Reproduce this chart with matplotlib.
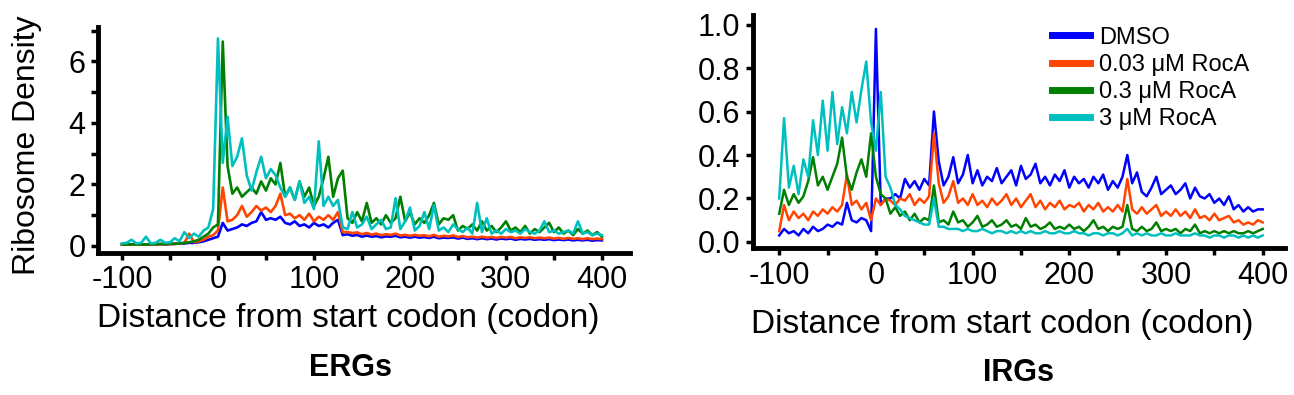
import matplotlib
matplotlib.use("Agg")
import matplotlib.pyplot as plt
import numpy as np
from matplotlib.ticker import MultipleLocator

plt.rcParams["font.family"] = ["Liberation Sans", "DejaVu Sans"]
plt.rcParams["axes.unicode_minus"] = False

# codon positions relative to the start codon (shared by every trace)
codons = np.arange(-100, 401, 5)

labels = ["DMSO", "0.03 μM RocA", "0.3 μM RocA", "3 μM RocA"]
colors = ["#0000ff", "#ff4500", "#008000", "#00bfbf"]

# ERGs
erg_dmso = [0.05, 0.05, 0.04, 0.05, 0.05, 0.04, 0.05, 0.05, 0.06, 0.05,
            0.06, 0.07, 0.08, 0.08, 0.1, 0.1, 0.12, 0.15, 0.2,
            0.25, 0.3, 0.75, 0.5, 0.55, 0.6, 0.7, 0.65, 0.75, 0.8,
            1.1, 0.85, 0.9, 0.85, 0.95, 0.75, 0.7, 0.8, 0.65, 0.7,
            0.6, 0.75, 0.65, 0.7, 0.6, 0.75, 0.85,
            0.35, 0.38, 0.33, 0.36, 0.3, 0.34, 0.3, 0.32, 0.28, 0.31,
            0.3, 0.33, 0.28, 0.3, 0.27, 0.3, 0.27, 0.29, 0.26, 0.3,
            0.25, 0.27, 0.26, 0.28, 0.24, 0.27, 0.23, 0.25, 0.22, 0.25,
            0.22, 0.24, 0.21, 0.24, 0.22, 0.24, 0.2, 0.23, 0.21, 0.23,
            0.2, 0.22, 0.2, 0.22, 0.19, 0.21, 0.19, 0.21, 0.18, 0.2,
            0.18, 0.2, 0.17, 0.19, 0.18]
erg_003 = [0.04, 0.04, 0.05, 0.04, 0.05, 0.05, 0.04, 0.05, 0.06, 0.05,
           0.07, 0.06, 0.08, 0.1, 0.4, 0.12, 0.15, 0.2, 0.3,
           0.35, 0.5, 1.9, 0.8, 0.85, 1.0, 1.3, 0.95, 1.1, 1.3,
           1.15, 1.25, 1.1, 1.3, 1.7, 1.0, 1.05, 0.9, 1.0, 0.85,
           1.05, 0.8, 0.95, 0.85, 1.0, 0.85, 1.1,
           0.45, 0.45, 0.42, 0.44, 0.38, 0.42, 0.37, 0.4, 0.35, 0.38,
           0.36, 0.4, 0.34, 0.36, 0.33, 0.36, 0.33, 0.35, 0.31, 0.36,
           0.3, 0.33, 0.31, 0.34, 0.29, 0.32, 0.28, 0.3, 0.27, 0.3,
           0.27, 0.29, 0.26, 0.29, 0.27, 0.29, 0.25, 0.28, 0.26, 0.28,
           0.25, 0.27, 0.25, 0.27, 0.24, 0.26, 0.23, 0.26, 0.23, 0.25,
           0.22, 0.25, 0.22, 0.24, 0.22]
erg_03 = [0.05, 0.05, 0.05, 0.05, 0.05, 0.05, 0.05, 0.06, 0.06, 0.06,
          0.07, 0.07, 0.08, 0.1, 0.12, 0.15, 0.2, 0.3, 0.4,
          0.6, 0.7, 6.65, 2.6, 1.7, 1.9, 1.6, 1.75, 1.9, 1.7,
          2.1, 1.8, 2.2, 2.0, 2.7, 1.6, 1.9, 1.5, 2.1, 1.6,
          1.9, 1.3, 1.6, 2.2, 2.9, 1.6, 2.2, 2.45, 0.9,
          0.75, 1.1, 0.8, 1.4, 0.75, 0.9, 0.7, 1.0, 0.75, 0.9,
          1.6, 0.8, 1.1, 0.7, 0.9, 0.75, 1.0, 1.4, 0.7, 0.9,
          0.85, 1.0,
          0.5, 0.65, 0.55, 0.7, 0.5, 0.8, 0.5, 0.65,
          0.45, 0.6, 0.8, 0.5, 0.6, 0.45, 0.65, 0.4, 0.55, 0.45,
          0.6, 0.75, 0.45, 0.6, 0.4, 0.5, 0.35, 0.55, 0.4, 0.5,
          0.35, 0.45, 0.3]
erg_3 = [0.08, 0.1, 0.2, 0.08, 0.1, 0.3, 0.08, 0.1, 0.2, 0.1,
         0.12, 0.25, 0.15, 0.45, 0.25, 0.4, 0.3, 0.5, 0.6,
         1.2, 6.75, 2.7, 4.2, 2.6, 2.9, 3.5, 2.3, 1.8, 2.4,
         2.9, 2.2, 2.5, 2.3, 1.9, 1.6, 1.9, 1.5, 2.1, 1.4,
         1.6, 1.2, 3.4, 1.3, 1.6, 1.3, 1.5, 0.6,
         0.55, 1.1, 0.6, 0.7, 0.95, 0.55, 0.7, 0.85, 0.55, 0.6,
         1.55, 0.55, 0.8, 1.25, 0.5, 0.65, 1.1, 0.55, 1.33, 0.5,
         0.6, 0.45, 0.7, 0.55, 0.45, 0.6, 0.4, 1.4, 0.45, 0.9,
         0.4, 0.5, 0.4, 0.55, 0.45, 0.5, 0.4, 0.55, 0.45, 0.4,
         0.5, 0.8, 0.45, 0.5, 0.4, 0.45, 0.5, 0.4, 0.8, 0.4,
         0.45, 0.35, 0.4, 0.35]

# IRGs
irg_dmso = [0.03, 0.06, 0.04, 0.05, 0.03, 0.06, 0.04, 0.07, 0.05, 0.06,
            0.08, 0.07, 0.09, 0.08, 0.18, 0.1, 0.09, 0.11, 0.1, 0.05,
            0.98, 0.17, 0.2, 0.2, 0.22, 0.2, 0.29, 0.25, 0.28, 0.24,
            0.29, 0.26, 0.6, 0.37, 0.26, 0.3, 0.39, 0.27, 0.31, 0.4,
            0.27, 0.33, 0.26, 0.3, 0.28, 0.34, 0.27, 0.3, 0.33, 0.26,
            0.35, 0.29, 0.31, 0.36, 0.27, 0.3, 0.26, 0.31, 0.28, 0.33,
            0.25, 0.3, 0.27, 0.29, 0.25, 0.3, 0.27, 0.31, 0.24, 0.28,
            0.25, 0.3, 0.4, 0.27, 0.32, 0.23, 0.21, 0.25, 0.3, 0.22,
            0.24, 0.26, 0.22, 0.24, 0.27, 0.2, 0.25, 0.21, 0.2, 0.22,
            0.18, 0.2, 0.17, 0.21, 0.15, 0.17, 0.14, 0.16, 0.14, 0.15,
            0.15]
irg_003 = [0.05, 0.17, 0.1, 0.14, 0.11, 0.13, 0.1, 0.14, 0.12, 0.15,
           0.13, 0.16, 0.14, 0.17, 0.31, 0.17, 0.19, 0.15, 0.18, 0.1,
           0.2, 0.17, 0.2, 0.19, 0.17, 0.2, 0.19, 0.22, 0.17, 0.2,
           0.18, 0.21, 0.5, 0.27, 0.18, 0.21, 0.28, 0.18, 0.2, 0.17,
           0.22, 0.17, 0.19, 0.16, 0.2, 0.17, 0.19, 0.22, 0.17, 0.2,
           0.16, 0.19, 0.22, 0.16, 0.19, 0.15, 0.18, 0.16, 0.19, 0.15,
           0.17, 0.16, 0.18, 0.14, 0.17, 0.15, 0.18, 0.14, 0.16, 0.14,
           0.17, 0.14, 0.29, 0.15, 0.13, 0.16, 0.13, 0.15, 0.17, 0.12,
           0.14, 0.12, 0.15, 0.12, 0.14, 0.11, 0.15, 0.11, 0.12, 0.1,
           0.13, 0.1, 0.11, 0.12, 0.09, 0.1, 0.08, 0.09, 0.08, 0.1,
           0.09]
irg_03 = [0.13, 0.24, 0.17, 0.22, 0.18, 0.21, 0.28, 0.39, 0.26, 0.3,
          0.24, 0.3, 0.36, 0.48, 0.3, 0.24, 0.32, 0.38, 0.3, 0.5,
          0.3, 0.22, 0.2, 0.13, 0.16, 0.12, 0.14, 0.1, 0.13, 0.09,
          0.11, 0.1, 0.26, 0.09, 0.1, 0.08, 0.14, 0.09, 0.1, 0.07,
          0.09, 0.12, 0.07, 0.08, 0.1, 0.07, 0.08, 0.1, 0.07, 0.08,
          0.06, 0.11, 0.07, 0.08, 0.06, 0.07, 0.09, 0.06, 0.07, 0.06,
          0.08, 0.06, 0.07, 0.05, 0.07, 0.1, 0.06, 0.07, 0.05, 0.07,
          0.06, 0.07, 0.17, 0.06, 0.05, 0.07, 0.05, 0.06, 0.09, 0.05,
          0.06, 0.05, 0.06, 0.04, 0.06, 0.05, 0.08, 0.04, 0.05, 0.04,
          0.05, 0.04, 0.05, 0.04, 0.05, 0.04, 0.04, 0.05, 0.04, 0.05,
          0.06]
irg_3 = [0.2, 0.57, 0.25, 0.35, 0.22, 0.38, 0.3, 0.56, 0.4, 0.65,
         0.42, 0.69, 0.45, 0.62, 0.5, 0.69, 0.55, 0.7, 0.83, 0.55,
         0.42, 0.69, 0.3, 0.25, 0.17, 0.15, 0.12, 0.11, 0.1, 0.09,
         0.08, 0.08, 0.2, 0.07, 0.07, 0.06, 0.06, 0.06, 0.05, 0.06,
         0.05, 0.05, 0.06, 0.05, 0.04, 0.05, 0.05, 0.04, 0.05, 0.04,
         0.05, 0.04, 0.05, 0.04, 0.04, 0.05, 0.04, 0.04, 0.05, 0.04,
         0.04, 0.05, 0.04, 0.04, 0.03, 0.04, 0.04, 0.03, 0.04, 0.04,
         0.03, 0.04, 0.06, 0.03, 0.04, 0.03, 0.04, 0.03, 0.03, 0.04,
         0.03, 0.03, 0.04, 0.03, 0.03, 0.03, 0.04, 0.03, 0.03, 0.02,
         0.03, 0.03, 0.02, 0.03, 0.03, 0.02, 0.03, 0.02, 0.03, 0.02,
         0.03]

fig = plt.figure(figsize=(12.94, 3.95), dpi=100)
ax1 = fig.add_axes([0.0757, 0.3595, 0.411, 0.572])
ax2 = fig.add_axes([0.582, 0.372, 0.411, 0.59])

for series, c, lab in zip([erg_dmso, erg_003, erg_03, erg_3], colors, labels):
    ax1.plot(codons, series, color=c, lw=1.9, label=lab)
for series, c, lab in zip([irg_dmso, irg_003, irg_03, irg_3], colors, labels):
    ax2.plot(codons, series, color=c, lw=1.8, label=lab)

for ax in (ax1, ax2):
    ax.spines[["top", "right"]].set_visible(False)
    ax.spines[["left", "bottom"]].set_linewidth(3.5)
    ax.tick_params(which="both", direction="out", length=5, width=2.5,
                   labelsize=22, pad=4)
    ax.xaxis.set_major_locator(MultipleLocator(100))
    ax.xaxis.set_minor_locator(MultipleLocator(50))

ax1.set_xlim(-125, 429)
ax1.set_ylim(-0.23, 7.12)
ax1.yaxis.set_major_locator(MultipleLocator(2))
ax1.yaxis.set_minor_locator(MultipleLocator(1))

ax2.set_xlim(-127, 423)
ax2.set_ylim(-0.028, 1.044)
ax2.yaxis.set_major_locator(MultipleLocator(0.2))
ax2.yaxis.set_major_formatter("{x:.1f}")

ax1.set_xlabel("Distance from start codon (codon)", fontsize=24, va="center")
ax1.xaxis.set_label_coords(0.47, -0.29)
ax2.set_xlabel("Distance from start codon (codon)", fontsize=24, va="center")
ax2.xaxis.set_label_coords(0.468, -0.33)

fig.text(0.021, 0.633, "Ribosome Density", rotation=90, fontsize=23,
         ha="center", va="center")
fig.text(0.2705, 0.068, "ERGs", fontsize=22, fontweight="bold",
         ha="center", va="center")
fig.text(0.787, 0.055, "IRGs", fontsize=22, fontweight="bold",
         ha="center", va="center")

leg = ax2.legend(loc="upper left", bbox_to_anchor=(0.562, 0.95),
                 frameon=False, fontsize=17, handlelength=1.6,
                 handletextpad=0.4, labelspacing=0.22, borderpad=0,
                 borderaxespad=0)
for line in leg.get_lines():
    line.set_linewidth(5)

fig.savefig("out.png", dpi=100)
